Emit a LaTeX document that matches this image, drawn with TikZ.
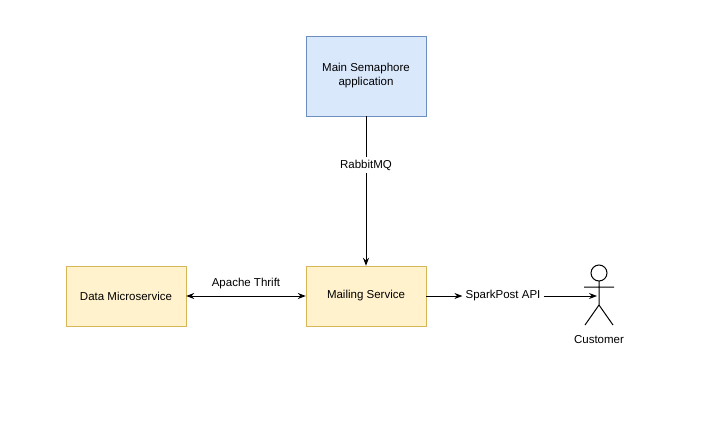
\documentclass[tikz,border=0pt]{standalone}
\usepackage{fontspec}
\setmainfont{Liberation Sans}
\usetikzlibrary{arrows.meta}
\definecolor{bfill}{HTML}{DAE8FC}\definecolor{bline}{HTML}{6C8EBF}
\definecolor{yfill}{HTML}{FFF2CC}\definecolor{yline}{HTML}{D6B656}
\begin{document}
\begin{tikzpicture}[x=1pt,y=-1pt,font=\fontsize{11.5}{14}\selectfont,
 box/.style={draw,minimum width=120pt,minimum height=60pt,align=center,inner sep=2pt},
 tip/.style={Stealth[length=8pt,width=6pt]},
 arr/.style={-{Stealth[length=8pt,width=6pt]},line width=1pt},
 lbl/.style={fill=white,inner sep=3pt}]
\useasboundingbox (0,0) rectangle (704,434);
\node[box,fill=bfill,draw=bline,minimum height=80pt] (main) at (366,76) {Main Semaphore\\application};
\node[box,fill=yfill,draw=yline] (data) at (126,296) {Data Microservice};
\node[box,fill=yfill,draw=yline] (mail) at (366,296) {Mailing Service};
\node[lbl] (rmq) at (366,165) {RabbitMQ};
\draw[line width=1pt] (main) -- (rmq);
\draw[arr] (rmq) -- (mail);
\draw[line width=1pt,{Stealth[length=8pt,width=6pt]}-{Stealth[length=8pt,width=6pt]}] (data) -- (mail) node[midway,above=3pt] {Apache Thrift};
\node[lbl] (sp) at (503,296) {SparkPost API};
\coordinate (cust) at (597,296);
\draw[arr] (mail) -- (sp);
\draw[arr] (sp) -- (cust);
\begin{scope}[line width=1pt]
\draw[fill=white] (599,273) circle (8);
\draw (599,281) -- (599,305) (584,287) -- (614,287) (599,305) -- (585,325) (599,305) -- (613,325);
\end{scope}
\node (custl) at (599,340) {Customer};
\end{tikzpicture}
\end{document}
